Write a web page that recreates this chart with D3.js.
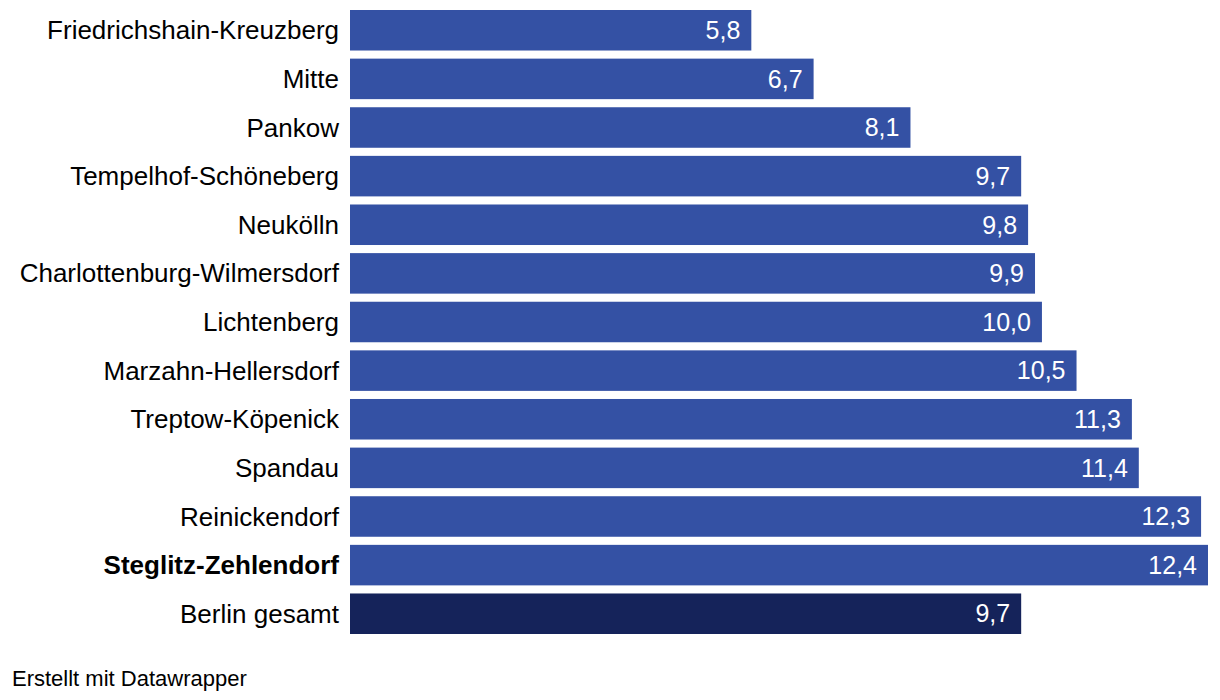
<!DOCTYPE html>
<html>
<head>
<meta charset="utf-8">
<script src="https://cdn.jsdelivr.net/npm/d3@7"></script>
<style>
  body { margin: 0; background: #fff; font-family: "Liberation Sans", Arial, sans-serif; }
</style>
</head>
<body>
<svg width="1220" height="700"></svg>
<script>
// Bezirke, sortiert wie im Original
const districts = [
  'Friedrichshain-Kreuzberg', 'Mitte', 'Pankow', 'Tempelhof-Schöneberg', 'Neukölln',
  'Charlottenburg-Wilmersdorf', 'Lichtenberg', 'Marzahn-Hellersdorf', 'Treptow-Köpenick',
  'Spandau', 'Reinickendorf', 'Steglitz-Zehlendorf', 'Berlin gesamt'
]
const values = [5.8, 6.7, 8.1, 9.7, 9.8, 9.9, 10.0, 10.5, 11.3, 11.4, 12.3, 12.4, 9.7]
const highlighted = ['Steglitz-Zehlendorf']
const totalRow = 'Berlin gesamt'

const data = districts.map((d, i) => ({ name: d, value: values[i] }))

const svg = d3.select('svg')

const xScale = d3.scaleLinear()
  .domain([0, 12.4])
  .range([350, 1208])

const yScale = d3.scaleBand()
  .domain(districts)
  .range([10, 10 + 48 * districts.length])
  .paddingInner(8 / 48)
  .paddingOuter(0)

const fmt = v => d3.format('.1f')(v).replace('.', ',')

svg.selectAll('.bar')
  .data(data)
  .enter()
  .append('rect')
  .classed('bar', true)
  .attr('x', xScale(0))
  .attr('y', d => yScale(d.name))
  .attr('width', d => xScale(d.value) - xScale(0))
  .attr('height', yScale.bandwidth())
  .attr('fill', d => d.name === totalRow ? '#15235a' : '#3451a4')

// Werte im Balken, rechtsbündig
svg.selectAll('.value')
  .data(data)
  .enter()
  .append('text')
  .classed('value', true)
  .attr('x', d => xScale(d.value) - 11)
  .attr('y', d => yScale(d.name) + yScale.bandwidth() / 2)
  .attr('dy', '0.35em')
  .attr('text-anchor', 'end')
  .attr('fill', '#fff')
  .style('font-size', '25px')
  .text(d => fmt(d.value))

// Bezirksnamen
svg.selectAll('.label')
  .data(data)
  .enter()
  .append('text')
  .classed('label', true)
  .attr('x', 339)
  .attr('y', d => yScale(d.name) + yScale.bandwidth() / 2)
  .attr('dy', '0.35em')
  .attr('text-anchor', 'end')
  .attr('fill', '#000')
  .style('font-size', '26px')
  .style('font-weight', d => highlighted.includes(d.name) ? 'bold' : 'normal')
  .text(d => d.name)

svg.append('text')
  .attr('x', 12)
  .attr('y', 686)
  .attr('fill', '#000')
  .style('font-size', '22px')
  .text('Erstellt mit Datawrapper')
</script>
</body>
</html>
